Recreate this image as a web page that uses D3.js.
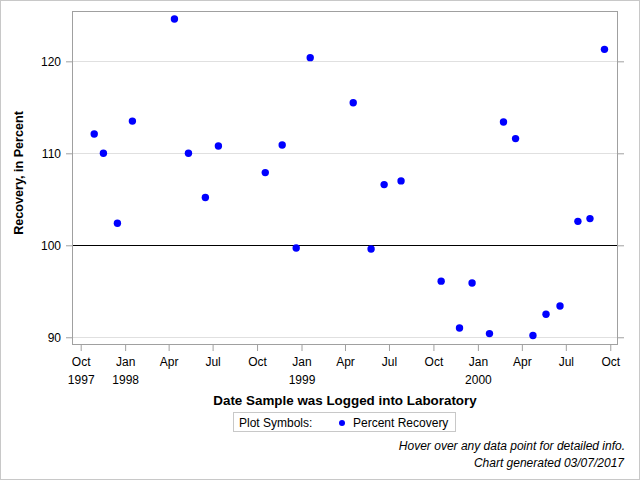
<!DOCTYPE html>
<html>
<head>
<meta charset="utf-8">
<script src="https://cdn.jsdelivr.net/npm/d3@7"></script>
<style>
  body { margin: 0; background: #fff; }
  text { font-family: "Liberation Sans", Arial, sans-serif; }
</style>
</head>
<body>
<div id="chart"></div>
<script>
"use strict";

// sample dates and recovery values
const sample_dates = [
    "1997-10-29", "1997-11-17", "1997-12-16", "1998-01-16", "1998-04-13",
    "1998-05-12", "1998-06-16", "1998-07-13", "1998-10-18", "1998-11-22",
    "1998-12-21", "1999-01-19", "1999-04-18", "1999-05-25", "1999-06-21",
    "1999-07-26", "1999-10-17", "1999-11-24", "1999-12-20", "2000-01-25",
    "2000-02-23", "2000-03-19", "2000-04-24", "2000-05-21", "2000-06-19",
    "2000-07-26", "2000-08-20", "2000-09-19"
];
const recovery = [
    112.1, 110.0, 102.4, 113.5, 124.6,
    110.0, 105.2, 110.8, 107.9, 110.9,
    99.7, 120.4, 115.5, 99.6, 106.6,
    107.0, 96.1, 91.0, 95.9, 90.4,
    113.4, 111.6, 90.2, 92.5, 93.4,
    102.6, 102.9, 121.3
];
const y_ticks = [90, 100, 110, 120];
const x_tick_dates = [
    "1997-10-01", "1998-01-01", "1998-04-01", "1998-07-01", "1998-10-01",
    "1999-01-01", "1999-04-01", "1999-07-01", "1999-10-01", "2000-01-01",
    "2000-04-01", "2000-07-01", "2000-10-01"
];
const month_labels = ["Jan", "Apr", "Jul", "Oct"];

const width = 640, height = 480;
const margins = {top: 11, right: 22, bottom: 135, left: 72};
const plot_width = width - margins.left - margins.right;
const plot_height = height - margins.top - margins.bottom;

const parse = d3.timeParse("%Y-%m-%d");
const points = sample_dates.map(function (d, i) {
    return {date: parse(d), value: recovery[i]};
});

const x_scale = d3.scaleTime()
    .domain([parse("1997-09-13"), parse("2000-10-17")])
    .range([0, plot_width]);
const y_scale = d3.scaleLinear()
    .domain([89.16, 125.47])
    .range([plot_height, 0]);

const svg = d3.select("#chart").append("svg")
    .attr("width", width)
    .attr("height", height);

// outer border
svg.append("rect")
    .attr("x", 0.5).attr("y", 0.5)
    .attr("width", width - 1).attr("height", height - 1)
    .attr("fill", "white")
    .attr("stroke", "#c8c8c8");

const plot = svg.append("g")
    .attr("transform", "translate(" + margins.left + "," + margins.top + ")");

// grid lines
plot.selectAll(".grid")
    .data(y_ticks.filter(function (v) { return v !== 100; }))
    .enter().append("line")
    .attr("x1", 0).attr("x2", plot_width)
    .attr("y1", function (v) { return Math.round(y_scale(v)) + 0.5; })
    .attr("y2", function (v) { return Math.round(y_scale(v)) + 0.5; })
    .attr("stroke", "#e0e0e0");

// reference line at 100
plot.append("line")
    .attr("x1", 0).attr("x2", plot_width)
    .attr("y1", Math.round(y_scale(100)) + 0.5)
    .attr("y2", Math.round(y_scale(100)) + 0.5)
    .attr("stroke", "#000");

// frame
plot.append("rect")
    .attr("x", 0.5).attr("y", 0.5)
    .attr("width", plot_width - 1).attr("height", plot_height - 1)
    .attr("fill", "none")
    .attr("stroke", "#a0a0a0");

// Y axes (left with labels, right ticks only)
const y_axis = d3.axisLeft(y_scale).tickValues(y_ticks).tickSize(6).tickPadding(5);
const y_axis_g = plot.append("g").call(y_axis);
const y_axis_right = plot.append("g")
    .attr("transform", "translate(" + plot_width + ",0)")
    .call(d3.axisRight(y_scale).tickValues(y_ticks).tickSize(6).tickFormat(""));

// X axis
function x_format(d) {
    return month_labels[Math.floor(d.getMonth() / 3)];
}
const x_axis = d3.axisBottom(x_scale)
    .tickValues(x_tick_dates.map(parse))
    .tickSize(6)
    .tickPadding(6)
    .tickFormat(x_format);
const x_axis_g = plot.append("g")
    .attr("transform", "translate(0," + plot_height + ")")
    .call(x_axis);

[y_axis_g, y_axis_right, x_axis_g].forEach(function (g) {
    g.select(".domain").remove();
    g.selectAll(".tick line").attr("stroke", "#a0a0a0");
    g.selectAll(".tick text")
        .attr("fill", "#000")
        .style("font-size", "12px")
        .style("font-family", "'Liberation Sans', Arial, sans-serif");
});

// year labels under Oct 1997 and every January
x_axis_g.selectAll(".tick").each(function (d) {
    if (d.getMonth() === 0 || (d.getFullYear() === 1997)) {
        d3.select(this).append("text")
            .attr("y", 30)
            .attr("dy", "0.71em")
            .attr("fill", "#000")
            .attr("text-anchor", "middle")
            .style("font-size", "12px")
            .text(d.getFullYear());
    }
});

// data points
plot.selectAll(".pt")
    .data(points)
    .enter().append("circle")
    .attr("cx", function (d) { return x_scale(d.date); })
    .attr("cy", function (d) { return y_scale(d.value); })
    .attr("r", 3.7)
    .attr("fill", "#0000ff");

// axis titles
svg.append("text")
    .attr("x", margins.left + plot_width / 2)
    .attr("y", 405)
    .attr("text-anchor", "middle")
    .style("font-size", "13.4px")
    .style("font-weight", "bold")
    .text("Date Sample was Logged into Laboratory");

svg.append("text")
    .attr("transform", "translate(23,173) rotate(-90)")
    .attr("text-anchor", "middle")
    .style("font-size", "12.6px")
    .style("font-weight", "bold")
    .text("Recovery, in Percent");

// legend
const legend = svg.append("g");
legend.append("rect")
    .attr("x", 233.5).attr("y", 412.5)
    .attr("width", 222).attr("height", 19)
    .attr("fill", "white")
    .attr("stroke", "#c8c8c8");
legend.append("text")
    .attr("x", 239).attr("y", 427)
    .style("font-size", "12px")
    .text("Plot Symbols:");
legend.append("circle")
    .attr("cx", 342).attr("cy", 423)
    .attr("r", 3)
    .attr("fill", "#0000ff");
legend.append("text")
    .attr("x", 353).attr("y", 427)
    .style("font-size", "12px")
    .text("Percent Recovery");

// footnotes
svg.append("text")
    .attr("x", 625).attr("y", 450)
    .attr("text-anchor", "end")
    .style("font-size", "12px")
    .style("font-style", "italic")
    .text("Hover over any data point for detailed info.");
svg.append("text")
    .attr("x", 624).attr("y", 467)
    .attr("text-anchor", "end")
    .style("font-size", "12px")
    .style("font-style", "italic")
    .text("Chart generated 03/07/2017");
</script>
</body>
</html>
